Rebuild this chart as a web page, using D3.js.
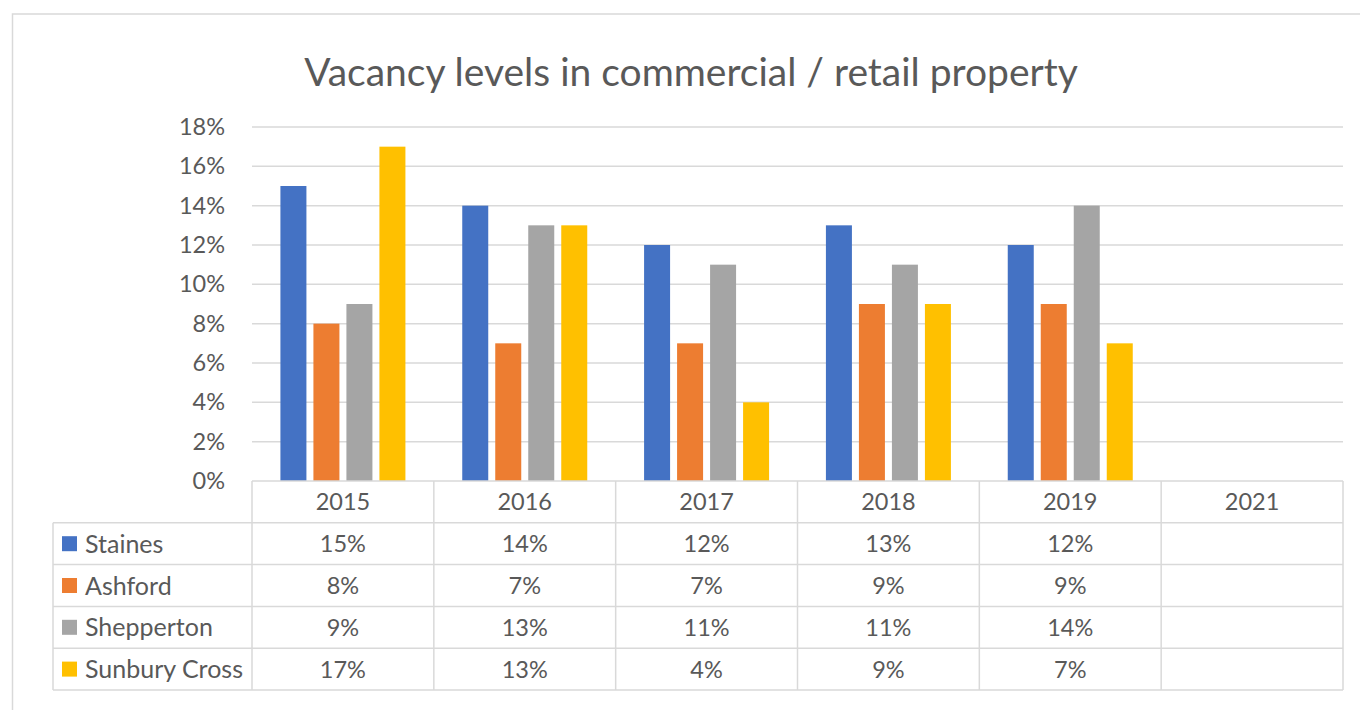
<!DOCTYPE html>
<html><head><meta charset="utf-8">
<script src="https://cdn.jsdelivr.net/npm/d3@7"></script>
<style>body{margin:0;background:#fff}svg{display:block}text{font-family:Lato,"Open Sans",sans-serif;fill:#595959}</style>
</head><body><svg id="c" width="1360" height="710"></svg>
<script>
const title = "Vacancy levels in commercial / retail property";
const years = ["2015","2016","2017","2018","2019","2021"];
const seriesNames = ["Staines","Ashford","Shepperton","Sunbury Cross"];
const staines = [15,14,12,13,12,null];
const ashford = [8,7,7,9,9,null];
const shepperton = [9,13,11,11,14,null];
const sunbury = [17,13,4,9,7,null];
const colors = ["#4472C4","#ED7D31","#A5A5A5","#FFC000"];
const yTicks = [0,2,4,6,8,10,12,14,16,18];

(function(){
const seriesValues = [staines, ashford, shepperton, sunbury];
const svg = d3.select("#c");
const grid = "#d9d9d9";

svg.append("rect").attr("x",12.5).attr("y",14).attr("width",1400).attr("height",800)
  .attr("fill","none").attr("stroke",grid).attr("stroke-width",1.5);

svg.append("text").attr("x",691).attr("y",86).attr("text-anchor","middle")
  .attr("font-size",39).text(title);

const pL=252, pR=1343, pT=127, pB=481;
const x = d3.scaleBand().domain(years).range([pL,pR]).padding(0);
const y = d3.scaleLinear().domain([0,18]).range([pB,pT]);
const bw = x.bandwidth();
const barW = 26, gap = 7;
const groupW = seriesNames.length*barW + (seriesNames.length-1)*gap;
const x1 = d3.scaleBand().domain(seriesNames)
  .range([(bw-groupW)/2, (bw+groupW)/2]).paddingInner(gap/(barW+gap)).paddingOuter(0);

svg.append("g").selectAll("line").data(yTicks.filter(d=>d>0)).join("line")
  .attr("x1",pL).attr("x2",pR).attr("y1",d=>y(d)).attr("y2",d=>y(d))
  .attr("stroke",grid).attr("stroke-width",1.5);

const yAxis = d3.axisLeft(y).tickValues(yTicks).tickFormat(d=>d+"%").tickSize(0).tickPadding(27);
const ga = svg.append("g").attr("transform",`translate(${pL},0)`).call(yAxis);
ga.select(".domain").remove();
ga.selectAll("text").attr("font-size",23.5).attr("font-family","Lato").attr("fill","#595959");

seriesNames.forEach((s,i)=>{
  svg.append("g").selectAll("rect").data(years.map((yr,j)=>({yr,v:seriesValues[i][j]})).filter(d=>d.v!=null))
    .join("rect")
    .attr("x",d=>x(d.yr)+x1(s)).attr("width",x1.bandwidth())
    .attr("y",d=>y(d.v)).attr("height",d=>pB-y(d.v))
    .attr("fill",colors[i]);
});

const rowH = 41.8;
const tableLeft = 53;
const hdrBottom = pB + rowH;
const tableBottom = hdrBottom + rowH*seriesNames.length;
const tg = svg.append("g");
const ln = (a,b,c,d)=>tg.append("line").attr("x1",a).attr("y1",b).attr("x2",c).attr("y2",d)
  .attr("stroke",grid).attr("stroke-width",1.5);
ln(pL,pB,pR,pB);
for(let r=0;r<=seriesNames.length;r++){ const yy=hdrBottom+r*rowH; ln(tableLeft,yy,pR,yy); }
ln(tableLeft,hdrBottom,tableLeft,tableBottom);
years.forEach(yr=>ln(x(yr),pB,x(yr),tableBottom));
ln(pR,pB,pR,tableBottom);

tg.selectAll("text.h").data(years).join("text").attr("class","h")
  .attr("x",d=>x(d)+bw/2).attr("y",pB+rowH/2).attr("dy","0.36em")
  .attr("text-anchor","middle").attr("font-size",23.5).text(d=>d);

seriesNames.forEach((s,i)=>{
  const cy = hdrBottom + i*rowH + rowH/2;
  tg.append("rect").attr("x",62).attr("y",cy-7.5).attr("width",15).attr("height",15).attr("fill",colors[i]);
  tg.append("text").attr("x",85).attr("y",cy).attr("dy","0.36em").attr("font-size",25).text(s);
  tg.append("g").selectAll("text").data(years.map((yr,j)=>({yr,v:seriesValues[i][j]})).filter(d=>d.v!=null))
    .join("text").attr("x",d=>x(d.yr)+bw/2).attr("y",cy).attr("dy","0.36em")
    .attr("text-anchor","middle").attr("font-size",23.5).text(d=>d.v+"%");
});
})();
</script></body></html>
